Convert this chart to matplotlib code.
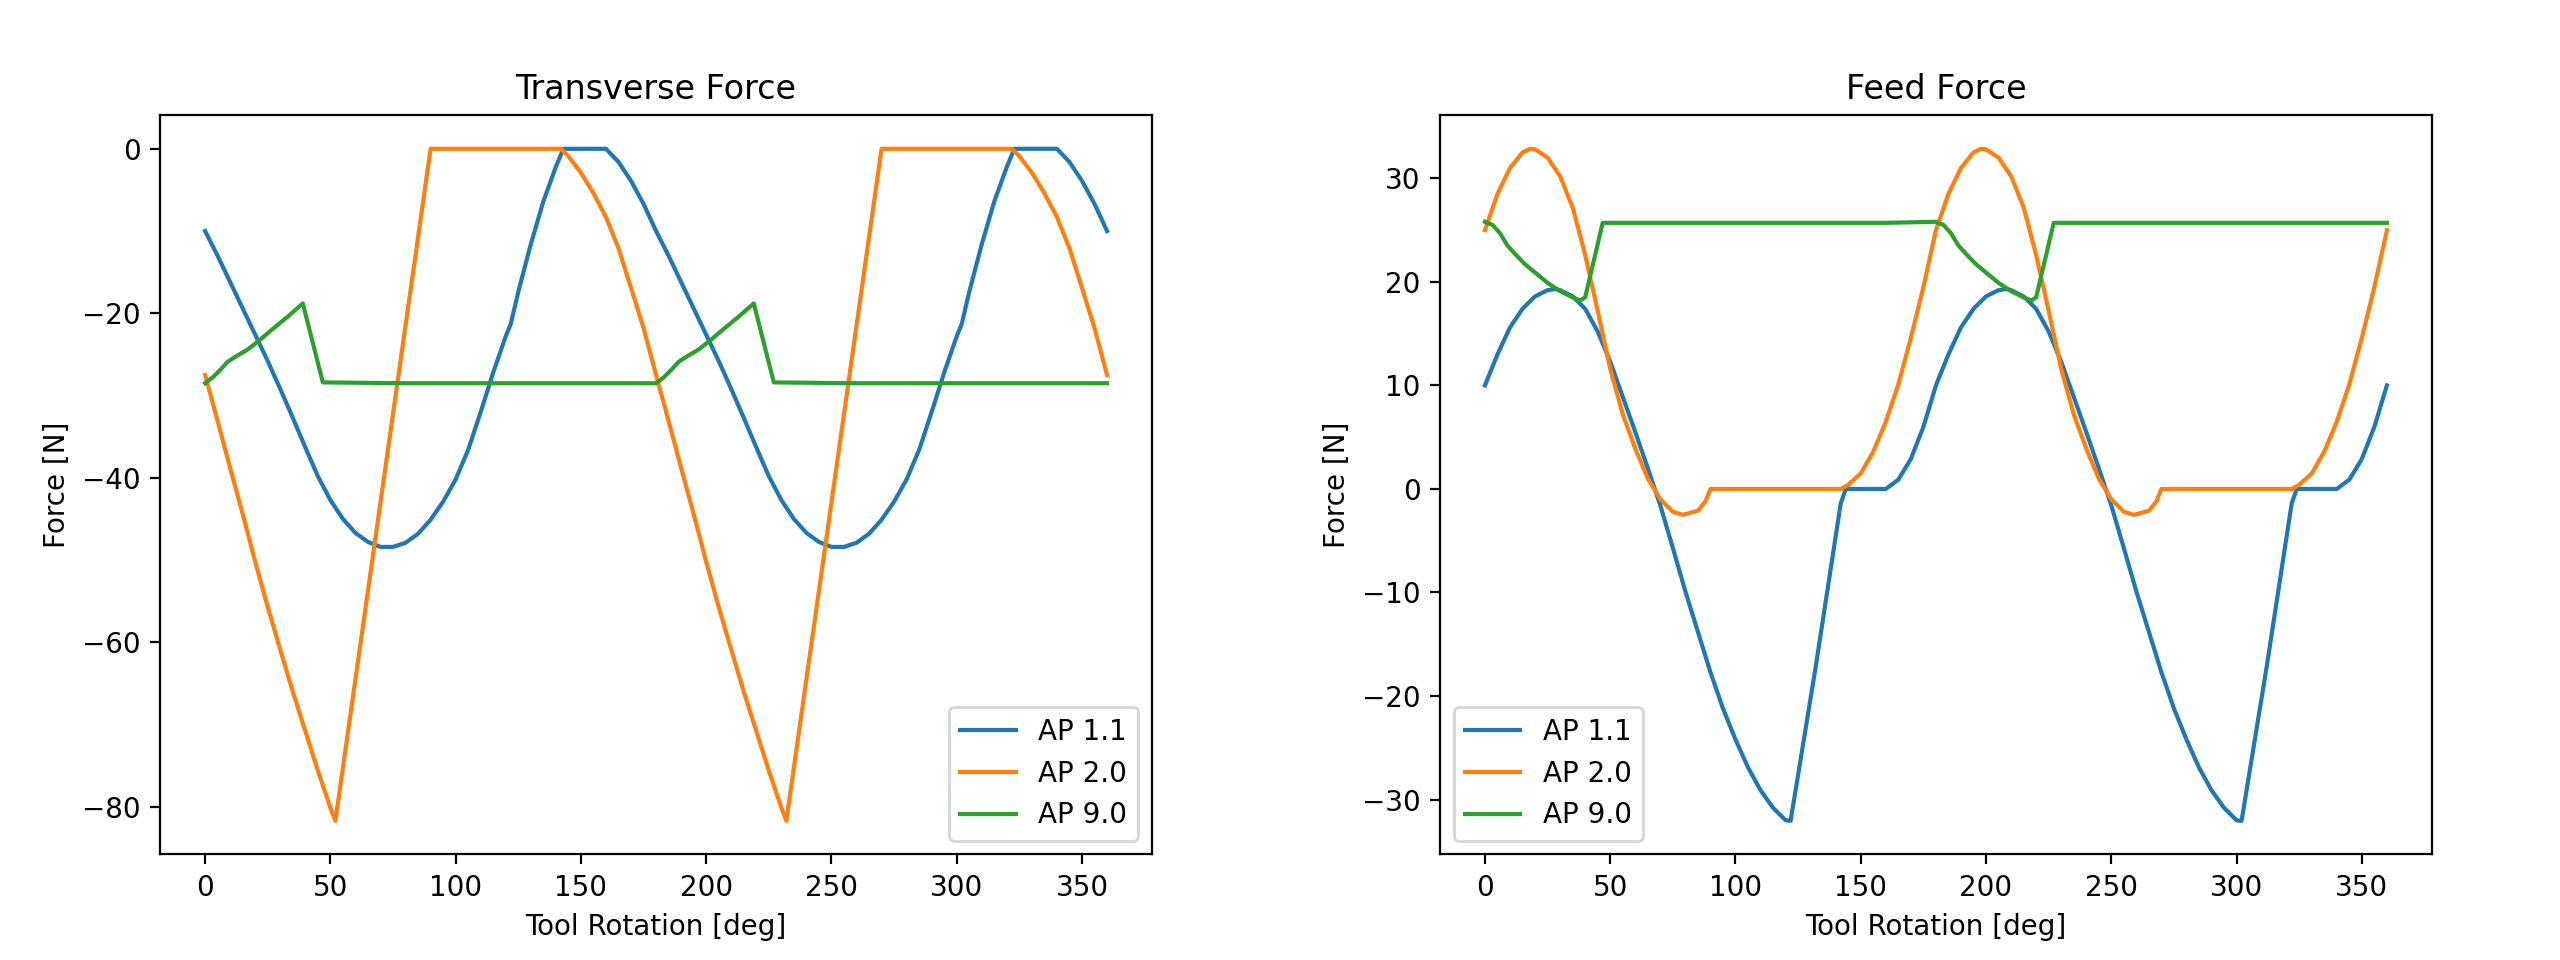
import matplotlib
matplotlib.use("Agg")
import matplotlib.pyplot as plt
from matplotlib.ticker import MultipleLocator

# ---- transverse force ----
deg_tr_11 = [0, 5, 10, 15, 20, 25, 30, 35, 40, 45, 50, 55, 60, 65, 70, 75, 80, 85, 90, 95, 100,
             105, 110, 115, 120, 122, 125, 130, 135, 140, 143, 160, 165, 170, 175,
             180, 185, 190, 195, 200, 205, 210, 215, 220, 225, 230, 235, 240, 245, 250, 255, 260,
             265, 270, 275, 280, 285, 290, 295, 300, 302, 305, 310, 315, 320, 323, 340, 345, 350,
             355, 360]
tr_11 = [-10.0, -13.0, -16.2, -19.4, -22.6, -25.8, -29.2, -32.7, -36.3, -39.8, -42.7, -45.0, -46.7,
         -47.8, -48.4, -48.4, -47.9, -46.8, -45.1, -42.9, -40.2, -36.6, -32.0, -27.2, -22.8, -21.3,
         -17.4, -11.6, -6.4, -2.2, 0.0, 0.0, -1.6, -3.9, -6.7,
         -10.0, -13.0, -16.2, -19.4, -22.6, -25.8, -29.2, -32.7, -36.3, -39.8, -42.7, -45.0, -46.7,
         -47.8, -48.4, -48.4, -47.9, -46.8, -45.1, -42.9, -40.2, -36.6, -32.0, -27.2, -22.8, -21.3,
         -17.4, -11.6, -6.4, -2.2, 0.0, 0.0, -1.6, -3.9, -6.7, -10.0]

deg_tr_20 = [0, 5, 10, 15, 20, 25, 30, 35, 40, 45, 50, 52, 70, 90, 142, 145, 150, 155, 160, 165,
             170, 175,
             180, 185, 190, 195, 200, 205, 210, 215, 220, 225, 230, 232, 250, 270, 322, 325, 330,
             335, 340, 345, 350, 355, 360]
tr_20 = [-27.5, -33.1, -38.8, -44.4, -50.2, -55.7, -60.9, -66.0, -70.8, -75.6, -80.1, -81.7, -43.0,
         0.0, 0.0, -0.9, -2.9, -5.4, -8.3, -12.1, -16.9, -21.8,
         -27.5, -33.1, -38.8, -44.4, -50.2, -55.7, -60.9, -66.0, -70.8, -75.6, -80.1, -81.7, -43.0,
         0.0, 0.0, -0.9, -2.9, -5.4, -8.3, -12.1, -16.9, -21.8, -27.5]

deg_tr_90 = [0, 3, 6, 9, 12, 17, 22, 27, 33, 39, 47, 80, 120, 160,
             180, 183, 186, 189, 192, 197, 202, 207, 213, 219, 227, 260, 300, 340, 360]
tr_90 = [-28.5, -27.8, -26.9, -25.9, -25.3, -24.4, -23.2, -21.9, -20.4, -18.8, -28.4, -28.5, -28.5,
         -28.5,
         -28.5, -27.8, -26.9, -25.9, -25.3, -24.4, -23.2, -21.9, -20.4, -18.8, -28.4, -28.5, -28.5,
         -28.5, -28.5]

# ---- feed force ----
deg_fd_11 = [0, 5, 10, 15, 20, 25, 28, 30, 35, 40, 45, 50, 55, 60, 65, 70, 75, 80, 85, 90, 95,
             100, 105, 110, 115, 120, 122, 132, 142, 144, 160, 165, 170, 175,
             180, 185, 190, 195, 200, 205, 208, 210, 215, 220, 225, 230, 235, 240, 245, 250, 255,
             260, 265, 270, 275, 280, 285, 290, 295, 300, 302, 312, 322, 324, 340, 345, 350, 355,
             360]
fd_11 = [10.0, 13.0, 15.6, 17.4, 18.6, 19.2, 19.3, 19.2, 18.6, 17.4, 15.2, 12.3, 8.9, 5.5, 2.0,
         -1.6, -5.7, -9.9, -13.8, -17.7, -21.2, -24.2, -26.9, -29.1, -30.8, -32.0, -32.05, -17.2,
         -1.4, 0.0, 0.0, 0.9, 2.9, 6.0,
         10.0, 13.0, 15.6, 17.4, 18.6, 19.2, 19.3, 19.2, 18.6, 17.4, 15.2, 12.3, 8.9, 5.5, 2.0,
         -1.6, -5.7, -9.9, -13.8, -17.7, -21.2, -24.2, -26.9, -29.1, -30.8, -32.0, -32.05, -17.2,
         -1.4, 0.0, 0.0, 0.9, 2.9, 6.0, 10.0]

deg_fd_20 = [0, 5, 10, 15, 18, 20, 25, 30, 35, 40, 45, 50, 55, 60, 65, 70, 75, 79, 85, 88, 90, 142,
             145, 150, 155, 160, 165, 170, 175,
             180, 185, 190, 195, 198, 200, 205, 210, 215, 220, 225, 230, 235, 240, 245, 250, 255,
             259, 265, 268, 270, 322, 325, 330, 335, 340, 345, 350, 355, 360]
fd_20 = [25.0, 28.5, 31.0, 32.5, 32.85, 32.8, 32.0, 30.2, 27.2, 22.6, 17.2, 11.6, 7.2, 3.9, 1.0,
         -1.0, -2.2, -2.5, -2.1, -1.2, 0.0, 0.0, 0.4, 1.5, 3.6, 6.5, 10.1, 14.6, 19.5,
         25.0, 28.5, 31.0, 32.5, 32.85, 32.8, 32.0, 30.2, 27.2, 22.6, 17.2, 11.6, 7.2, 3.9, 1.0,
         -1.0, -2.2, -2.5, -2.1, -1.2, 0.0, 0.0, 0.4, 1.5, 3.6, 6.5, 10.1, 14.6, 19.5, 25.0]

deg_fd_90 = [0, 3, 6, 9, 12, 16, 20, 25, 30, 35, 38, 40, 47, 80, 120, 160,
             180, 183, 186, 189, 192, 196, 200, 205, 210, 215, 218, 220, 227, 260, 300, 340, 360]
fd_90 = [25.8, 25.5, 24.7, 23.5, 22.7, 21.7, 20.9, 19.9, 19.1, 18.5, 18.2, 18.5, 25.7, 25.7, 25.7,
         25.7,
         25.8, 25.5, 24.7, 23.5, 22.7, 21.7, 20.9, 19.9, 19.1, 18.5, 18.2, 18.5, 25.7, 25.7, 25.7,
         25.7, 25.7]

labels = ['AP 1.1', 'AP 2.0', 'AP 9.0']

fig, (ax1, ax2) = plt.subplots(1, 2, figsize=(12.8, 4.8), dpi=200)
fig.subplots_adjust(left=0.0625, right=0.95, wspace=0.29)

# transverse
ax1.plot(deg_tr_11, tr_11, label=labels[0])
ax1.plot(deg_tr_20, tr_20, label=labels[1])
ax1.plot(deg_tr_90, tr_90, label=labels[2])
ax1.yaxis.set_major_locator(MultipleLocator(20))
ax1.set_title('Transverse Force')
ax1.set_xlabel('Tool Rotation [deg]')
ax1.set_ylabel('Force [N]')
ax1.legend(loc='lower right')

# feed
ax2.plot(deg_fd_11, fd_11, label=labels[0])
ax2.plot(deg_fd_20, fd_20, label=labels[1])
ax2.plot(deg_fd_90, fd_90, label=labels[2])
ax2.set_title('Feed Force')
ax2.set_xlabel('Tool Rotation [deg]')
ax2.set_ylabel('Force [N]')
ax2.legend(loc='lower left')

fig.savefig('out.png', dpi=200)
